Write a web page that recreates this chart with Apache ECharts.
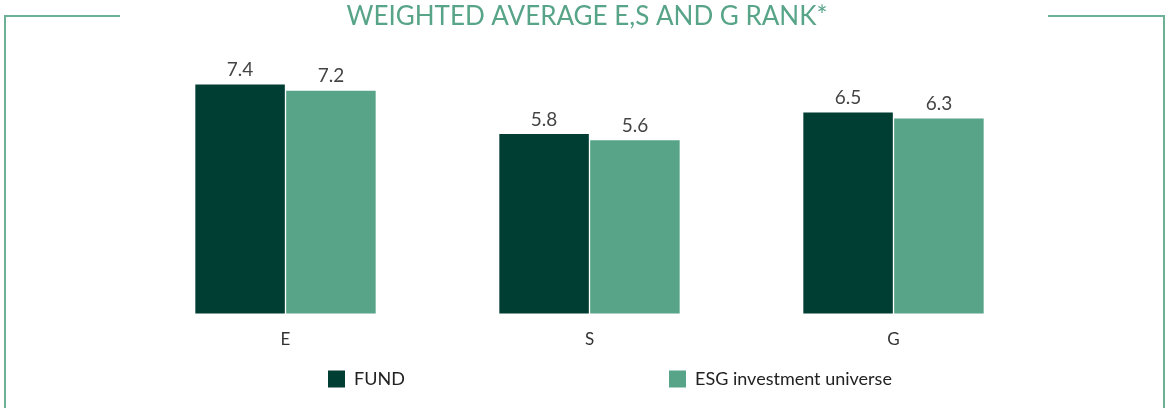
<!DOCTYPE html>
<html>
<head>
<meta charset="utf-8">
<script src="https://cdn.jsdelivr.net/npm/echarts@6/dist/echarts.min.js"></script>
<style>
  html, body { margin: 0; padding: 0; background: #fff; }
  #chart { width: 1174px; height: 408px; }
</style>
</head>
<body>
<div id="chart"></div>
<script>
const categories = ['E', 'S', 'G'];
const fundValues = [7.4, 5.8, 6.5];
const universeValues = [7.2, 5.6, 6.3];

const DARK = '#003d32';
const LIGHT = '#57a488';
const FRAME = '#6cb096';

const chart = echarts.init(document.getElementById('chart'));

const option = {
  backgroundColor: '#fff',
  textStyle: { fontFamily: 'Lato' },
  title: {
    text: 'WEIGHTED AVERAGE E,S AND G RANK*',
    left: 'center',
    top: 4,
    padding: 0,
    textStyle: { color: LIGHT, fontFamily: 'Lato', fontWeight: 'normal', fontSize: 26 }
  },
  // frame around the chart
  graphic: [
    { type: 'polyline', shape: { points: [[5, 408], [5, 16], [120, 16]] }, style: { stroke: FRAME, lineWidth: 2, fill: null } },
    { type: 'polyline', shape: { points: [[1048, 16], [1164, 16], [1164, 408]] }, style: { stroke: FRAME, lineWidth: 2, fill: null } }
  ],
  legend: [
    {
      data: ['FUND'],
      left: 328, top: 370, padding: 0,
      icon: 'rect',
      itemWidth: 17, itemHeight: 17,
      textStyle: { fontFamily: 'Lato', fontSize: 18, color: '#222', padding: [0, 0, 0, 4] }
    },
    {
      data: ['ESG investment universe'],
      left: 669, top: 370, padding: 0,
      icon: 'rect',
      itemWidth: 17, itemHeight: 17,
      textStyle: { fontFamily: 'Lato', fontSize: 18, color: '#222', padding: [0, 0, 0, 4] }
    }
  ],
  grid: { left: 133.5, right: 128.5, top: 66, bottom: 94.5 },
  xAxis: {
    type: 'category',
    data: categories,
    axisLine: { show: false },
    axisTick: { show: false },
    axisLabel: { margin: 18, fontFamily: 'Lato', fontSize: 17, color: '#333' }
  },
  yAxis: {
    type: 'value',
    min: 0, max: 8,
    show: false,
    splitLine: { show: false }
  },
  series: [
    {
      name: 'FUND',
      type: 'bar',
      data: fundValues,
      barWidth: 89.5,
      barGap: '1.5%',
      itemStyle: { color: DARK },
      label: { show: true, position: 'top', distance: 5, fontFamily: 'Lato', fontSize: 19, color: '#444' }
    },
    {
      name: 'ESG investment universe',
      type: 'bar',
      data: universeValues,
      barWidth: 89.5,
      itemStyle: { color: LIGHT },
      label: { show: true, position: 'top', distance: 5, fontFamily: 'Lato', fontSize: 19, color: '#444' }
    }
  ]
};

chart.setOption(option);
</script>
</body>
</html>
